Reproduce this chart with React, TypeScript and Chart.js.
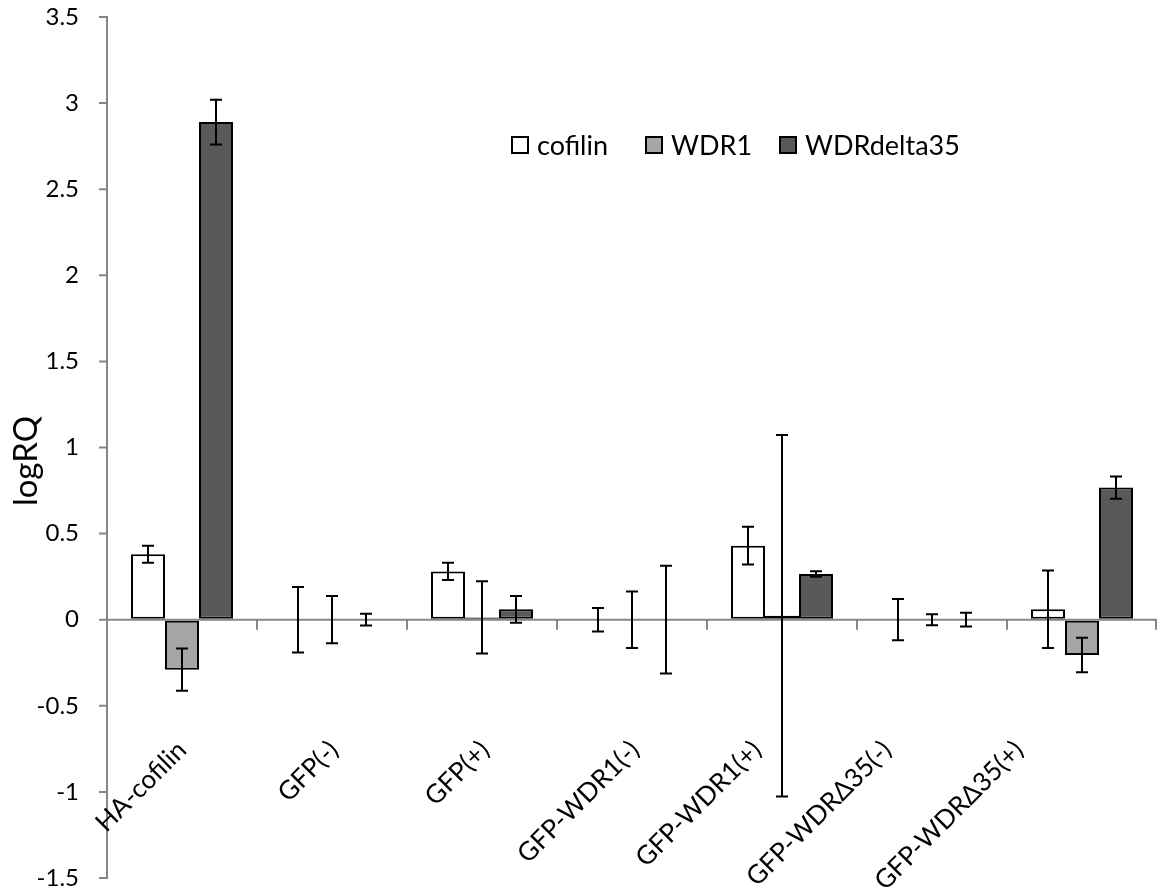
import React, { useEffect, useRef } from 'react';
import { Chart, registerables } from 'chart.js';

Chart.register(...registerables);

// ---------- data ----------
const categories = ['HA-cofilin', 'GFP(-)', 'GFP(+)', 'GFP-WDR1(-)', 'GFP-WDR1(+)', 'GFP-WDRΔ35(-)', 'GFP-WDRΔ35(+)'];
const seriesNames = ['cofilin', 'WDR1', 'WDRdelta35'];
const cofilinValues = [0.38, 0, 0.28, 0, 0.43, 0, 0.06];
const cofilinErrors = [0.05, 0.19, 0.05, 0.068, 0.11, 0.12, 0.225];
const wdr1Values = [-0.29, 0, 0.013, 0, 0.023, 0, -0.205];
const wdr1Errors = [0.123, 0.137, 0.21, 0.164, 1.05, 0.032, 0.1];
const wdrDelta35Values = [2.89, 0, 0.06, 0, 0.266, 0, 0.767];
const wdrDelta35Errors = [0.13, 0.034, 0.078, 0.313, 0.016, 0.04, 0.064];
const yMin = -1.5;
const yMax = 3.5;
const yStep = 0.5;
const yTitle = 'logRQ';

// ---------- styles / layout ----------
const seriesColors = ['#FFFFFF', '#A6A6A6', '#595959'];
const axisColor = '#868686';
const FONT = 'Lato, Carlito, "Open Sans", sans-serif';
const labelShift = [3, 5, 6, 6, -22, -42, -60];
const legendOffsets = [404, 538, 672];

const errorsBySeries = [cofilinErrors, wdr1Errors, wdrDelta35Errors];

const overlayPlugin = {
  id: 'overlay',
  afterDatasetsDraw(chart: any) {
    const ctx = chart.ctx as CanvasRenderingContext2D;
    const area = chart.chartArea;
    const xs = chart.scales.x;
    const ys = chart.scales.y;
    const y0 = ys.getPixelForValue(0);
    ctx.save();

    // y axis tick marks
    ctx.strokeStyle = axisColor;
    ctx.lineWidth = 2;
    ctx.beginPath();
    ys.ticks.forEach((t: any) => {
      const y = ys.getPixelForValue(t.value);
      ctx.moveTo(area.left - 8, y);
      ctx.lineTo(area.left, y);
    });
    ctx.stroke();

    // zero line with category boundary ticks
    ctx.beginPath();
    ctx.moveTo(area.left, y0);
    ctx.lineTo(area.right, y0);
    const n = categories.length;
    for (let i = 0; i < n; i++) {
      const xb = i < n - 1 ? (xs.getPixelForValue(i) + xs.getPixelForValue(i + 1)) / 2 : area.right - 1;
      ctx.moveTo(xb, y0);
      ctx.lineTo(xb, y0 + 10);
    }
    ctx.stroke();

    // error bars
    ctx.strokeStyle = '#000';
    ctx.lineWidth = 2;
    chart.data.datasets.forEach((ds: any, di: number) => {
      const meta = chart.getDatasetMeta(di);
      meta.data.forEach((bar: any, i: number) => {
        const v = ds.data[i];
        const e = errorsBySeries[di][i];
        const x = bar.x;
        const yt = ys.getPixelForValue(v + e);
        const yb = ys.getPixelForValue(v - e);
        ctx.beginPath();
        ctx.moveTo(x, yt);
        ctx.lineTo(x, yb);
        ctx.moveTo(x - 6, yt);
        ctx.lineTo(x + 6, yt);
        ctx.moveTo(x - 6, yb);
        ctx.lineTo(x + 6, yb);
        ctx.stroke();
      });
    });

    // category labels (rotated)
    ctx.fillStyle = '#000';
    ctx.font = `26px ${FONT}`;
    ctx.textAlign = 'right';
    ctx.textBaseline = 'middle';
    categories.forEach((c, i) => {
      const ax = xs.getPixelForValue(i) + labelShift[i] - 3;
      const ay = y0 + 126;
      ctx.save();
      ctx.translate(ax, ay);
      ctx.rotate(-Math.PI / 4);
      ctx.fillText(c, 0, 0);
      ctx.restore();
    });

    // legend
    ctx.font = `27px ${FONT}`;
    ctx.textAlign = 'left';
    ctx.textBaseline = 'middle';
    const ly = 136;
    seriesNames.forEach((name, i) => {
      const lx = area.left + legendOffsets[i];
      ctx.fillStyle = seriesColors[i];
      ctx.fillRect(lx, ly, 18, 18);
      ctx.strokeStyle = '#000';
      ctx.lineWidth = 2;
      ctx.strokeRect(lx + 1, ly + 1, 16, 16);
      ctx.fillStyle = '#000';
      ctx.fillText(name, lx + 26, ly + 10);
    });

    // y title
    ctx.font = `33px ${FONT}`;
    ctx.textAlign = 'center';
    ctx.textBaseline = 'middle';
    ctx.save();
    ctx.translate(26, 461);
    ctx.rotate(-Math.PI / 2);
    ctx.fillText(yTitle, 0, 0);
    ctx.restore();

    ctx.restore();
  },
};

export default function App() {
  const canvasRef = useRef<HTMLCanvasElement | null>(null);

  useEffect(() => {
    document.body.style.margin = '0';
    const canvas = canvasRef.current;
    if (!canvas) return;
    const chart = new Chart(canvas, {
      type: 'bar',
      data: {
        labels: categories,
        datasets: [
          { label: seriesNames[0], data: cofilinValues, backgroundColor: seriesColors[0] },
          { label: seriesNames[1], data: wdr1Values, backgroundColor: seriesColors[1] },
          { label: seriesNames[2], data: wdrDelta35Values, backgroundColor: seriesColors[2] },
        ].map((d) => ({
          ...d,
          borderColor: '#000',
          borderWidth: 2,
          borderSkipped: false,
          categoryPercentage: 0.68,
          barPercentage: 1,
        })),
      },
      options: {
        animation: false,
        responsive: false,
        maintainAspectRatio: false,
        events: [],
        layout: { padding: { left: 0, right: 4, top: 17, bottom: 14 } },
        plugins: {
          legend: { display: false },
          title: { display: false },
          tooltip: { enabled: false },
        },
        scales: {
          x: { display: false, offset: true },
          y: {
            min: yMin,
            max: yMax,
            afterFit: (s: any) => {
              s.width = 107;
            },
            ticks: {
              stepSize: yStep,
              color: '#000',
              padding: 0,
              font: { family: FONT, size: 24, lineHeight: 1 },
              callback: (v: any) => String(Math.round(Number(v) * 10) / 10),
            },
            grid: {
              drawOnChartArea: false,
              drawTicks: true,
              tickLength: 28,
              tickColor: 'rgba(0,0,0,0)',
              color: axisColor,
              lineWidth: 2,
            },
            border: { display: true, color: axisColor, width: 2 },
          },
        },
      },
      plugins: [overlayPlugin],
    } as any);
    return () => chart.destroy();
  }, []);

  return (
    <div style={{ width: 1161, height: 892, position: 'relative' }}>
      <canvas ref={canvasRef} width={1161} height={892} style={{ display: 'block' }} />
    </div>
  );
}
